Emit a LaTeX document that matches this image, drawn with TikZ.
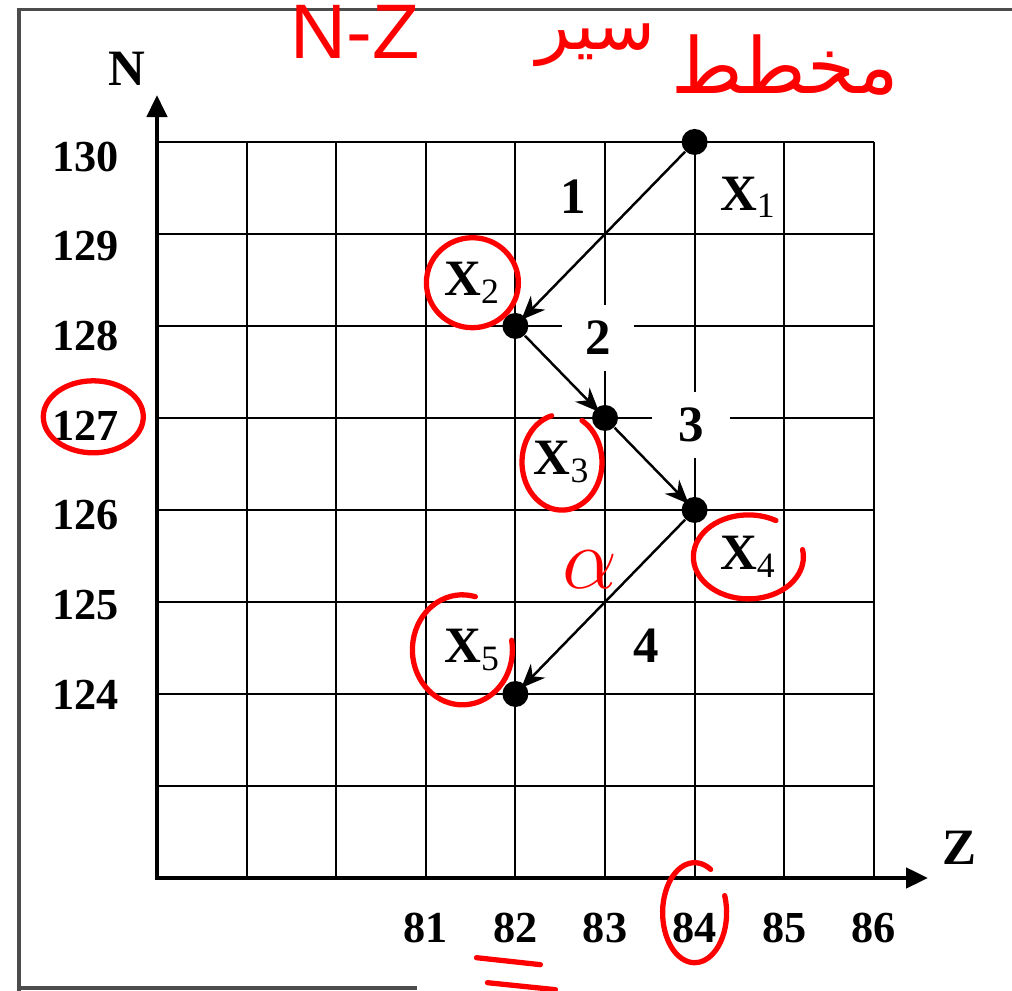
\documentclass[tikz,border=0pt]{standalone}
\usepackage{fontspec}
\setmainfont{Liberation Serif}
\newfontfamily\notefont{Liberation Sans}
\newfontfamily\arabicfont[Script=Arabic]{DejaVu Sans}
\TeXXeTstate=1
\usetikzlibrary{arrows.meta}
\tikzset{
  gridline/.style={line width=0.6pt},
  axis/.style={line width=1.3pt,line cap=rect,-{Triangle[length=0.22cm,width=0.2cm]}},
  leg/.style={line width=0.7pt,-{Stealth[length=0.24cm,width=0.2cm]},shorten >=-1.5pt},
  station/.style={circle,fill=black,inner sep=0pt,minimum size=0.26cm},
  ticklabel/.style={font=\fontsize{12.6}{14}\selectfont\bfseries},
  gridlabel/.style={font=\fontsize{14.5}{16}\selectfont\bfseries},
  legbox/.style={gridlabel,fill=white,inner sep=0pt,minimum width=0.72cm,minimum height=0.66cm},
  redmark/.style={red,line width=1.5pt,line cap=round},
  rednote/.style={red,font=\notefont\fontsize{22}{24}\selectfont},
  frameline/.style={gray!60!black,line width=0.9pt}
}

\begin{document}
\begin{tikzpicture}[x=0.896cm,y=0.92cm]
  \useasboundingbox (-1.752,-1.228) rectangle (9.542,9.543);
  % page frame
  \draw[frameline] (9.6,9.435) -- (-1.54,9.435) -- (-1.54,-1.3);
  \draw[frameline] (-1.54,-1.195) -- (2.9,-1.195);
  % grid
  \foreach \i in {1,...,8}
  {\draw[gridline] (\i,0) -- (\i,8);}
  \foreach \j in {1,...,8}
  {\draw[gridline] (0,\j) -- (8,\j);}
  % axes
  \draw[axis] (0,0) -- (0,8.51);
  \draw[axis] (0,0) -- (8.605,0);
  \node[gridlabel] (N) at (-0.335,8.80) {N};
  \node[gridlabel] (Z) at (8.96,0.326) {Z};
  \foreach \n in {124,...,130}
  {\node[ticklabel] (n\n) at (-0.8,\n-122.011-0.025*\n+3.1) {\n};}
  \foreach \z in {81,...,86}
  {\node[ticklabel] (z\z) at (\z-78,-0.54) {\z};}
  % legs
  \node[gridlabel] (leg1) at (4.64,7.40) {1};
  \node[legbox] (leg2) at (4.92,5.87) {2};
  \node[legbox,minimum width=0.78cm] (leg3) at (5.96,4.92) {3};
  \node[gridlabel] (leg4) at (5.46,2.52) {4};
  \foreach \k/\i/\j in {1/6/8,2/4/6,3/5/5,4/6/4,5/4/2}
  {\node[station] (X\k) at (\i,\j) {};}
  \foreach \k/\x/\y in {1/6.6/7.4,2/3.52/6.47,3/4.52/4.52,4/6.6/3.49,5/3.52/2.48}
  {\node[gridlabel] (lX\k) at (\x,\y) {X\textsubscript{\normalfont\k}};}
  \foreach \a/\b in {1/2,2/3,3/4,4/5}
  {\draw[leg] (X\a) -- (X\b);}
  % red notes
  \draw[redmark] (lX2) ellipse[x radius=0.46cm,y radius=0.45cm];
  \draw[redmark] (lX3) ++(105:0.40cm and 0.48cm) arc[start angle=105,end angle=420,x radius=0.40cm,y radius=0.48cm];
  \draw[redmark] (lX4) ++(60:0.55cm and 0.42cm) arc[start angle=60,end angle=370,x radius=0.55cm,y radius=0.42cm];
  \draw[redmark] ([xshift=-0.1cm]lX5.center) ++(75:0.5cm and 0.55cm) arc[start angle=75,end angle=370,x radius=0.5cm,y radius=0.55cm];
  \draw[redmark] ([shift={(0.08cm,0.09cm)}]n127.center) ellipse[x radius=0.5cm,y radius=0.36cm];
  \draw[redmark] ([yshift=0.15cm]z84.center) ++(60:0.32cm and 0.5cm) arc[start angle=60,end angle=380,x radius=0.32cm,y radius=0.5cm];
  \draw[redmark] ([shift={(-0.39cm,-0.30cm)}]z82.center) -- ([shift={(0.25cm,-0.37cm)}]z82.center);
  \draw[redmark] ([shift={(-0.28cm,-0.55cm)}]z82.center) -- ([shift={(0.40cm,-0.62cm)}]z82.center);
  \node[red,font=\fontsize{24}{26}\selectfont] (alpha) at (4.83,3.35) {$\alpha$};
  \node[rednote] (title) at (2.21,9.2) {N-Z};
  \node[rednote,font=\arabicfont\fontsize{20}{22}\selectfont] (titlear) at (4.9,9.05) {\beginR سير\endR};
  \node[rednote,font=\arabicfont\fontsize{22}{24}\selectfont] (titleplan) at (7.01,8.84) {\beginR مخطط\endR};
\end{tikzpicture}
\end{document}
